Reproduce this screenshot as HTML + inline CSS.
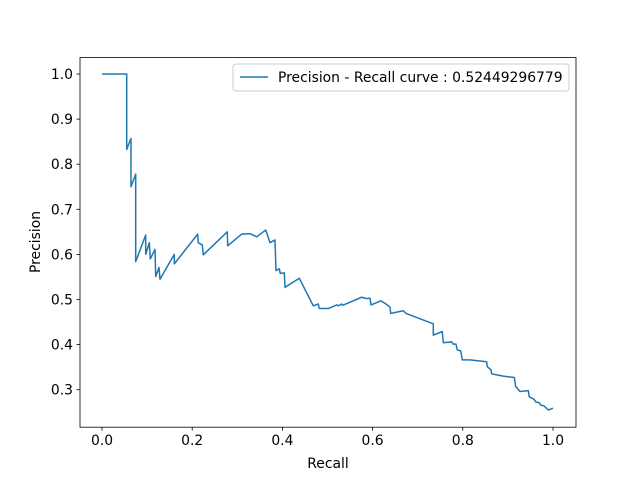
<!DOCTYPE html>
<html><head><meta charset="utf-8"><style>
body{margin:0;background:#fff}
svg{display:block;font-family:"DejaVu Sans","Liberation Sans",sans-serif}
</style></head><body>
<svg id="chart" width="640" height="480">
<rect width="640" height="480" fill="#fff"/>
<g id="ticks"></g>
<path id="curve" fill="none" stroke="#1f77b4" stroke-width="1.5" stroke-linejoin="round"/>
<rect x="80" y="57.6" width="496" height="369.6" fill="none" stroke="#000" stroke-width="0.8"/>
<text x="328" y="468" font-size="13.9" text-anchor="middle">Recall</text>
<text transform="translate(40,242) rotate(-90)" font-size="13.9" text-anchor="middle">Precision</text>
<g>
<rect x="233" y="64" width="336" height="27" rx="3" fill="#fff" stroke="#ccc" stroke-width="1"/>
<line x1="240" y1="77" x2="268" y2="77" stroke="#1f77b4" stroke-width="1.5"/>
<text x="278" y="82" font-size="13.9">Precision - Recall curve : 0.52449296779</text>
</g>
</svg>
<script>
const recall=[0,0.0548,0.0548,0.0643,0.0643,0.0747,0.0747,0.0969,0.0969,0.1049,0.1071,0.1175,0.1191,0.1264,0.1286,0.1603,0.1603,0.2122,0.2135,0.2224,0.2246,0.2778,0.2787,0.3098,0.3282,0.3430,0.3630,0.3725,0.3836,0.3858,0.3931,0.3953,0.4042,0.4058,0.4375,0.4685,0.4796,0.4818,0.5018,0.5204,0.5239,0.5315,0.5337,0.5758,0.5869,0.5942,0.5965,0.6186,0.6326,0.6386,0.6401,0.6534,0.6681,0.6741,0.7346,0.7346,0.7545,0.7568,0.7754,0.7789,0.7849,0.7878,0.7953,0.7989,0.8160,0.8530,0.8543,0.8625,0.8641,0.8898,0.9142,0.9173,0.9268,0.9452,0.9475,0.9579,0.9616,0.9696,0.9727,0.9800,0.9896,1.0];
const precision=[1.0,1.0,0.833,0.857,0.750,0.778,0.584,0.643,0.600,0.626,0.590,0.611,0.551,0.571,0.545,0.600,0.579,0.645,0.626,0.621,0.599,0.650,0.619,0.645,0.646,0.639,0.654,0.626,0.632,0.564,0.568,0.558,0.559,0.527,0.547,0.486,0.490,0.480,0.480,0.488,0.486,0.490,0.487,0.505,0.502,0.503,0.488,0.497,0.488,0.483,0.469,0.472,0.475,0.469,0.446,0.421,0.429,0.404,0.406,0.401,0.401,0.388,0.386,0.366,0.366,0.362,0.351,0.344,0.335,0.330,0.327,0.307,0.296,0.298,0.284,0.279,0.273,0.271,0.266,0.264,0.255,0.259];
const xTicks=[0,0.2,0.4,0.6,0.8,1.0];
const yTicks=[0.3,0.4,0.5,0.6,0.7,0.8,0.9,1.0];
const X=v=>102+v*451;
const Y=v=>74+(1-v)*451;
const NS="http://www.w3.org/2000/svg";
let d="";
recall.forEach((r,i)=>{d+=(i?"L":"M")+X(r).toFixed(2)+","+Y(precision[i]).toFixed(2);});
document.getElementById("curve").setAttribute("d",d);
const g=document.getElementById("ticks");
xTicks.forEach(t=>{
 const l=document.createElementNS(NS,"line");
 l.setAttribute("x1",X(t));l.setAttribute("x2",X(t));l.setAttribute("y1",427.2);l.setAttribute("y2",430.7);l.setAttribute("stroke","#000");l.setAttribute("stroke-width","0.8");
 
 
 g.appendChild(l);
 const tx=document.createElementNS(NS,"text");
 tx.setAttribute("x",X(t));tx.setAttribute("y",445);tx.setAttribute("font-size","13.9");tx.setAttribute("text-anchor","middle");
 tx.textContent=t.toFixed(1);
 
 
 g.appendChild(tx);
});
yTicks.forEach(t=>{
 const l=document.createElementNS(NS,"line");
 l.setAttribute("x1",76.5);l.setAttribute("x2",80);l.setAttribute("y1",Y(t));l.setAttribute("y2",Y(t));l.setAttribute("stroke","#000");l.setAttribute("stroke-width","0.8");
 
 
 g.appendChild(l);
 const tx=document.createElementNS(NS,"text");
 tx.setAttribute("x",73);tx.setAttribute("y",Y(t)+5);tx.setAttribute("font-size","13.9");tx.setAttribute("text-anchor","end");
 tx.textContent=t.toFixed(1);
 
 
 g.appendChild(tx);
});
</script>
</body></html>
